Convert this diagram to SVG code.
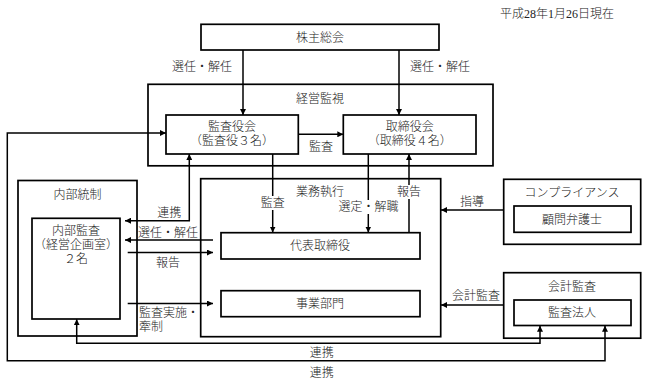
<svg xmlns="http://www.w3.org/2000/svg" width="647" height="384" viewBox="0 0 647 384">
<defs>
<marker id="ah" markerWidth="6" markerHeight="6" refX="6" refY="3" orient="auto" markerUnits="userSpaceOnUse">
<path d="M0,0 L6,3 L0,6 z" fill="#000"/>
</marker>
<marker id="ahs" markerWidth="6" markerHeight="6" refX="0" refY="3" orient="auto" markerUnits="userSpaceOnUse">
<path d="M6,0 L0,3 L6,6 z" fill="#000"/>
</marker>
<style>
.box{fill:#fff;stroke:#000;stroke-width:1.7}
.grp{fill:none;stroke:#000;stroke-width:1.7}
.arr{fill:none;stroke:#000;stroke-width:1.5;marker-end:url(#ah)}
.arr2{fill:none;stroke:#000;stroke-width:1.5;marker-start:url(#ahs);marker-end:url(#ah)}
text{font-family:"Liberation Serif","Noto Sans CJK JP",serif;font-size:12px;font-weight:300;fill:#222;dominant-baseline:central}
.c{text-anchor:middle}
.bg{fill:#fff}
</style>
</defs>
<rect width="647" height="384" fill="#fff"/>
<text x="557" y="13.5" class="c">平成28年1月26日現在</text>

<g id="kanshi">
<rect class="grp" x="148" y="84.3" width="345" height="81.5"/>
<text x="320" y="99" class="c">経営監視</text>
</g>
<g id="naibu-tosei">
<rect class="grp" x="18" y="180.5" width="119" height="155.5"/>
<text x="77.5" y="195" class="c">内部統制</text>
</g>
<g id="gyomu">
<rect class="grp" x="200.7" y="178.7" width="240" height="158"/>
<text x="320" y="191.7" class="c">業務執行</text>
</g>
<g id="compliance">
<rect class="grp" x="503.7" y="179.3" width="137" height="65"/>
<text x="572" y="193.3" class="c">コンプライアンス</text>
</g>
<g id="kaikei">
<rect class="grp" x="503.7" y="272.7" width="137" height="65.5"/>
<text x="572" y="286.7" class="c">会計監査</text>
</g>

<g id="connectors">
<line class="arr" x1="243" y1="50" x2="243" y2="115"/>
<line class="arr" x1="399" y1="50" x2="399" y2="115"/>
<line class="arr" x1="298.3" y1="134.3" x2="343.3" y2="134.3"/>
<line class="arr" x1="272.7" y1="154" x2="272.7" y2="232.5"/>
<line class="arr" x1="368.3" y1="154" x2="368.3" y2="232.5"/>
<line class="arr" x1="409" y1="232.5" x2="409" y2="154"/>
<path class="arr2" d="M189.3,154 V220.7 H125"/>
<line class="arr" x1="213" y1="240" x2="125" y2="240"/>
<line class="arr" x1="127.7" y1="252.5" x2="213" y2="252.5"/>
<line class="arr" x1="127.7" y1="303.5" x2="213" y2="303.5"/>
<line class="arr" x1="503.7" y1="210" x2="441" y2="210"/>
<line class="arr" x1="503.7" y1="305" x2="441" y2="305"/>
<path class="arr2" d="M76.7,319.3 V343.3 H540 V325.7"/>
<path class="arr2" d="M166,133 H7.3 V360.7 H605 V325.7"/>
<rect class="bg" x="260" y="196" width="25" height="14"/>
<rect class="bg" x="338" y="200" width="61" height="14"/>
<rect class="bg" x="396" y="185" width="26" height="14"/>
<text x="202" y="66.7" class="c">選任・解任</text>
<text x="440" y="66.7" class="c">選任・解任</text>
<text x="321" y="146.7" class="c">監査</text>
<text x="272.7" y="203" class="c">監査</text>
<text x="368.5" y="206.7" class="c">選定・解職</text>
<text x="409" y="191.7" class="c">報告</text>
<text x="169.3" y="212.7" class="c">連携</text>
<text x="168" y="232.7" class="c">選任・解任</text>
<text x="168" y="263" class="c">報告</text>
<text x="139" y="313">監査実施・</text>
<text x="139" y="327">牽制</text>
<text x="472" y="201.5" class="c">指導</text>
<text x="476" y="296" class="c">会計監査</text>
<text x="321.7" y="352.7" class="c">連携</text>
<text x="321.7" y="372.7" class="c">連携</text>
</g>

<g id="kabunushi">
<rect class="box" x="201" y="24.3" width="238" height="25.7"/>
<text x="320" y="37.7" class="c">株主総会</text>
</g>
<g id="kansayakukai">
<rect class="box" x="166" y="115" width="132.3" height="39"/>
<text x="232" y="126.5" class="c">監査役会</text>
<text x="232" y="141" class="c">（監査役３名）</text>
</g>
<g id="torishimariyakukai">
<rect class="box" x="343.3" y="115" width="132.7" height="39"/>
<text x="409.7" y="126.5" class="c">取締役会</text>
<text x="409.7" y="141" class="c">（取締役４名）</text>
</g>
<g id="naibu-kansa">
<rect class="box" x="32" y="218.3" width="88" height="100.7"/>
<text x="76" y="231" class="c">内部監査</text>
<text x="76" y="244.5" class="c">（経営企画室）</text>
<text x="76" y="258.5" class="c">２名</text>
</g>
<g id="daihyo">
<rect class="box" x="221" y="232.7" width="199" height="26.3"/>
<text x="320" y="245.7" class="c">代表取締役</text>
</g>
<g id="jigyobumon">
<rect class="box" x="221" y="290.7" width="199" height="26"/>
<text x="320" y="303.5" class="c">事業部門</text>
</g>
<g id="komon">
<rect class="box" x="514" y="206" width="117" height="26.3"/>
<text x="572" y="219.5" class="c">顧問弁護士</text>
</g>
<g id="kansahojin">
<rect class="box" x="514" y="300" width="117" height="25.5"/>
<text x="572" y="312.7" class="c">監査法人</text>
</g>
</svg>
